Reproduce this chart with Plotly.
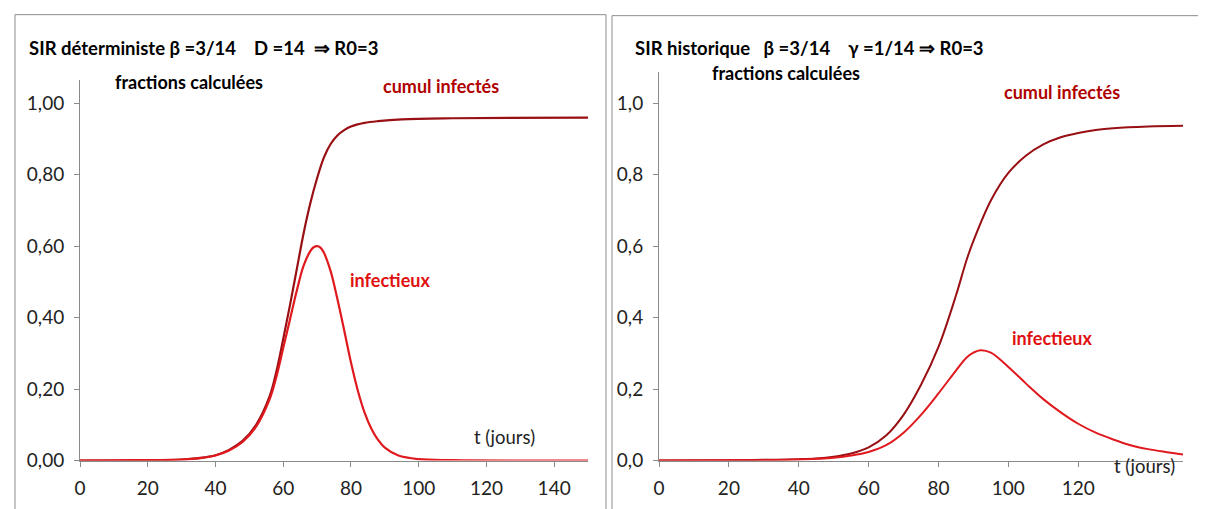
import plotly.graph_objects as go

# ---------------- data ----------------
# Left panel: SIR déterministe
t_left_cumul = [0, 10, 20, 30, 35, 40, 44, 48, 52, 56, 58, 60, 62, 64, 66, 68, 70, 72, 74, 76, 78, 80, 84, 88, 95, 110, 150]
left_cumul = [0.000, 0.000, 0.001, 0.003, 0.007, 0.015, 0.030, 0.055, 0.100, 0.180, 0.250, 0.340, 0.435, 0.535,
              0.635, 0.720, 0.790, 0.848, 0.886, 0.910, 0.925, 0.935, 0.945, 0.950, 0.955, 0.958, 0.960]

t_left_inf = [0, 20, 30, 35, 40, 44, 48, 52, 56, 58, 60, 62, 64, 66, 68, 69, 70, 71, 72, 74, 76, 78, 80, 82, 84, 86, 88, 90, 94, 100, 110, 150]
left_inf = [0.000, 0.001, 0.003, 0.006, 0.014, 0.028, 0.052, 0.095, 0.172, 0.235, 0.315, 0.395, 0.475, 0.545,
            0.586, 0.597, 0.600, 0.596, 0.582, 0.530, 0.452, 0.365, 0.275, 0.197, 0.135, 0.090, 0.058, 0.036,
            0.014, 0.004, 0.001, 0.000]

# Right panel: SIR historique
t_right_cumul = [0, 20, 30, 40, 45, 50, 55, 60, 65, 70, 75, 80, 85, 88, 90, 95, 100, 105, 110, 115, 120, 125, 130, 140, 150]
right_cumul = [0.000, 0.001, 0.002, 0.004, 0.006, 0.011, 0.020, 0.037, 0.070, 0.128, 0.212, 0.318, 0.462, 0.560,
               0.615, 0.728, 0.805, 0.853, 0.885, 0.905, 0.917, 0.925, 0.930, 0.935, 0.937]

t_right_inf = [0, 20, 30, 40, 45, 50, 55, 60, 65, 70, 75, 80, 85, 88, 90, 92, 95, 100, 105, 110, 115, 120, 125, 130, 135, 140, 145, 150]
right_inf = [0.000, 0.001, 0.001, 0.003, 0.005, 0.008, 0.014, 0.024, 0.043, 0.078, 0.128, 0.188, 0.252, 0.288,
             0.302, 0.309, 0.302, 0.262, 0.216, 0.172, 0.135, 0.103, 0.078, 0.059, 0.043, 0.032, 0.024, 0.017]

x_ticks = [0, 20, 40, 60, 80, 100, 120, 140]
x_text_left = ["0", "20", "40", "60", "80", "100", "120", "140"]
x_text_right = ["0", "20", "40", "60", "80", "100", "120", ""]
y_ticks = [0, 0.2, 0.4, 0.6, 0.8, 1.0]
y_text_left = ["0,00", "0,20", "0,40", "0,60", "0,80", "1,00"]
y_text_right = ["0,0", "0,2", "0,4", "0,6", "0,8", "1,0"]

title_left = "SIR déterministe β =3/14    D =14  ⇒ R0=3"
title_right = "SIR historique   β =3/14    γ =1/14 ⇒ R0=3"

# ---------------- style ----------------
FW, FH = 1206, 509
C_CUMUL = "#991014"
C_INF = "#E0191E"
FONT = "Lato"
AX = "#8A8A8A"


# map a position measured on the reference picture to a figure position
def fx(x):
    return (x - 13) / 0.995


def fy(y):
    return (y - 7.3) / 0.983


def px(x):
    return fx(x) / FW


def py(y):
    return 1 - fy(y) / FH


Y0 = 462                       # reference pixel of y = 0
Y_PER_UNIT = 359.0             # reference pixels per unit of y
top_left, top_right = 79.5, 71.5

fig = go.Figure()
line_l = dict(width=2.2, shape="spline", smoothing=1.0)
line_r = dict(width=2.0, shape="spline", smoothing=1.0)
fig.add_trace(go.Scatter(x=t_left_cumul, y=left_cumul, mode="lines", line=dict(color=C_CUMUL, **line_l),
                         xaxis="x", yaxis="y", showlegend=False))
fig.add_trace(go.Scatter(x=t_left_inf, y=left_inf, mode="lines", line=dict(color=C_INF, **line_l),
                         xaxis="x", yaxis="y", showlegend=False))
fig.add_trace(go.Scatter(x=t_right_cumul, y=right_cumul, mode="lines", line=dict(color=C_CUMUL, **line_r),
                         xaxis="x2", yaxis="y2", showlegend=False))
fig.add_trace(go.Scatter(x=t_right_inf, y=right_inf, mode="lines", line=dict(color=C_INF, **line_r),
                         xaxis="x2", yaxis="y2", showlegend=False))

axis_common = dict(showgrid=False, zeroline=False, showline=True, linecolor=AX, linewidth=1,
                   ticks="outside", ticklen=5, tickcolor=AX, tickfont=dict(family=FONT, size=19, color="#222"))

fig.update_layout(
    width=FW, height=FH, margin=dict(l=0, r=0, t=0, b=0),
    paper_bgcolor="white", plot_bgcolor="white",
    font=dict(family=FONT),
    xaxis=dict(domain=[px(79), px(587)], range=[0, 150], anchor="y", tickvals=x_ticks, ticktext=x_text_left,
               ticklabelstandoff=6, **axis_common),
    yaxis=dict(domain=[py(Y0), py(top_left)], range=[0, (Y0 - top_left) / Y_PER_UNIT], anchor="x", tickvals=y_ticks,
               ticktext=y_text_left, ticklabelstandoff=6, **axis_common),
    xaxis2=dict(domain=[px(658), px(1182)], range=[0, 150], anchor="y2", tickvals=x_ticks, ticktext=x_text_right,
                ticklabelstandoff=6, **axis_common),
    yaxis2=dict(domain=[py(Y0), py(top_right)], range=[0, (Y0 - top_right) / Y_PER_UNIT], anchor="x2", tickvals=y_ticks,
                ticktext=y_text_right, ticklabelstandoff=6, **axis_common),
)

# panel borders
fig.add_shape(type="rect", xref="paper", yref="paper", x0=1.0 / FW, x1=px(605), y0=-0.05, y1=py(14),
              line=dict(color="#8C8C8C", width=1), layer="below")
fig.add_shape(type="rect", xref="paper", yref="paper", x0=px(611), x1=px(1200), y0=-0.05, y1=py(15),
              line=dict(color="#8C8C8C", width=1), layer="below")


def note(text, x, y, color="black", size=18, bold=True):
    fig.add_annotation(text=f"<b>{text}</b>" if bold else text, xref="paper", yref="paper",
                       x=px(x), y=py(y), xanchor="left", yanchor="middle", showarrow=False, borderpad=0,
                       font=dict(family=FONT, size=size, color=color))


note(title_left, 27, 47, size=18.5)
note(title_right, 633, 47, size=18.5)
note("fractions calculées", 113, 82, size=18)
note("fractions calculées", 710, 73, size=18)
note("cumul infectés", 381, 86, color="#B00000", size=18)
note("cumul infectés", 1002, 92, color="#B00000", size=18)
note("infectieux", 348, 281, color="#E01010", size=18)
note("infectieux", 1010, 339, color="#E01010", size=18)
note("t (jours)", 472, 438, color="#222", size=18.5, bold=False)
note("t (jours)", 1112, 467, color="#222", size=18.5, bold=False)

fig.write_html("out.html")
